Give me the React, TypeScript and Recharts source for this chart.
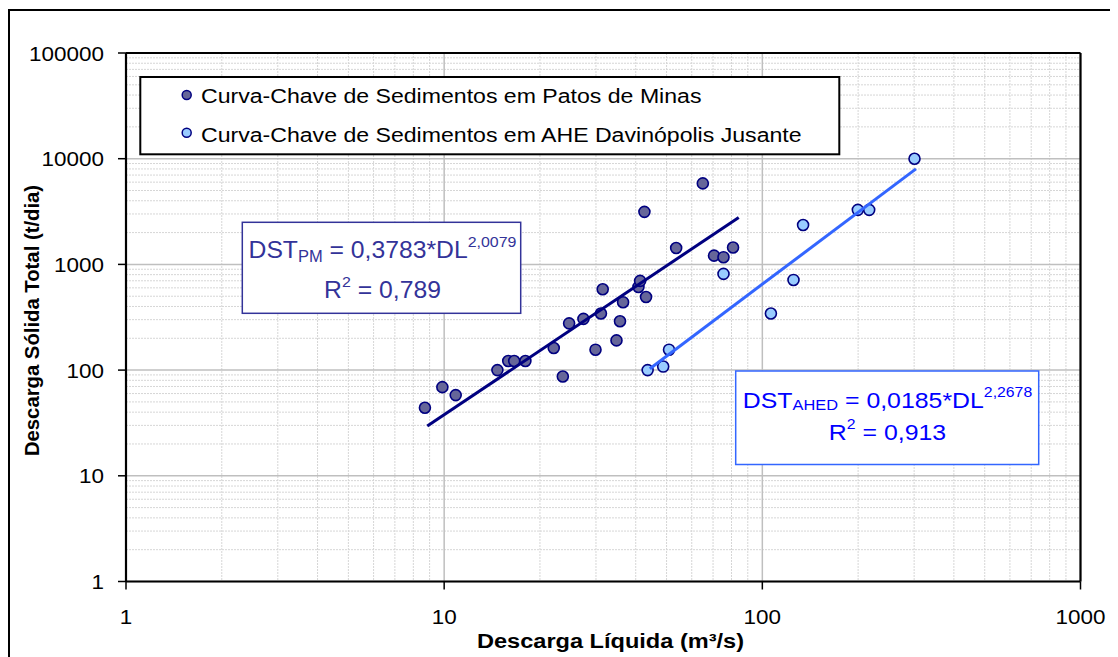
import React from "react";
import { ScatterChart, Scatter, XAxis, YAxis, CartesianGrid, ReferenceLine } from "recharts";

// ---- Data ----
// Curva-Chave de Sedimentos em Patos de Minas
const pmDischarge = [8.7, 9.87, 10.87, 14.7, 15.9, 16.6, 18.0, 22.1, 23.6, 24.7, 27.4, 29.9, 31.1, 31.5, 34.8, 35.7, 36.5, 40.8, 41.3, 43.1, 42.6, 53.6, 65.0, 70.5, 75.5, 80.9];
const pmSediment = [44, 69, 58, 100, 122, 122, 122, 162, 87, 277, 305, 156, 343, 582, 191, 290, 439, 612, 698, 492, 3140, 1430, 5840, 1210, 1170, 1445];
// Curva-Chave de Sedimentos em AHE Davinópolis Jusante
const ahDischarge = [43.6, 48.8, 50.9, 75.5, 106.4, 125.3, 134.3, 199.6, 216.7, 300.8];
const ahSediment = [100, 108, 156, 813, 343, 713, 2360, 3280, 3280, 9980];
// Trend line end points
const pmTrendDischarge = [8.85, 84.3];
const pmTrendSediment = [29.6, 2780];
const ahTrendDischarge = [44.3, 304];
const ahTrendSediment = [103, 8020];

const xTicks = [1, 10, 100, 1000];
const yTicks = [1, 10, 100, 1000, 10000, 100000];
const minorSteps = [2, 3, 4, 5, 6, 7, 8, 9];
const minorOf = (majors: number[]) => majors.slice(0, -1).flatMap((d) => minorSteps.map((m) => d * m));
const xMinor = minorOf(xTicks);
const yMinor = minorOf(yTicks);

const legendLabels = [
  "Curva-Chave de Sedimentos em Patos de Minas",
  "Curva-Chave de Sedimentos em AHE Davinópolis Jusante",
];

const zip = (xs: number[], ys: number[]) => xs.map((x, i) => ({ x, y: ys[i] }));
const pmData = zip(pmDischarge, pmSediment);
const ahData = zip(ahDischarge, ahSediment);
const pmTrend = zip(pmTrendDischarge, pmTrendSediment);
const ahTrend = zip(ahTrendDischarge, ahTrendSediment);

const FONT = "'Liberation Sans', Arial, sans-serif";
const DARK_FILL = "#666699";
const LIGHT_FILL = "#99CCFF";
const MARKER_STROKE = "#000080";

const XTick = (props: any) => {
  const { x, y, payload } = props;
  return (
    <text transform={`translate(${x} ${y + 34.5}) scale(1.07 1)`} textAnchor="middle" fontSize={21} fontFamily={FONT} fill="#000">
      {String(payload.value)}
    </text>
  );
};

const YTick = (props: any) => {
  const { x, y, payload } = props;
  return (
    <text transform={`translate(${x} ${y + 7.5}) scale(1.07 1)`} textAnchor="end" fontSize={21} fontFamily={FONT} fill="#000">
      {String(payload.value)}
    </text>
  );
};

const dot = (fill: string, r: number) => (props: any) => (
  <circle cx={props.cx} cy={props.cy} r={r} fill={fill} stroke={MARKER_STROKE} strokeWidth={1.6} />
);
const noShape = () => <g />;

export default function App() {
  return (
    <div style={{ position: "relative", width: 1110, height: 649, overflow: "hidden", background: "#fff" }}>
      <ScatterChart width={1110} height={649} margin={{ top: 45, right: 37.5, bottom: 35.5, left: 18 }}>
        <CartesianGrid horizontalValues={yMinor} verticalValues={xMinor} stroke="#d6d6d6" strokeDasharray="2 1" strokeWidth={1} />
        <CartesianGrid horizontalValues={yTicks} verticalValues={xTicks} stroke="#bfbfbf" strokeWidth={1.5} />
        <XAxis
          type="number"
          dataKey="x"
          scale="log"
          domain={[1, 1000]}
          ticks={xTicks}
          interval={0}
          allowDataOverflow
          height={40}
          tickSize={8}
          tickMargin={0}
          axisLine={{ stroke: "#000", strokeWidth: 2.2 }}
          tickLine={{ stroke: "#000", strokeWidth: 1.5 }}
          tick={<XTick />}
        />
        <YAxis
          type="number"
          dataKey="y"
          scale="log"
          domain={[1, 100000]}
          ticks={yTicks}
          interval={0}
          allowDataOverflow
          width={100}
          tickSize={8}
          tickMargin={14}
          axisLine={{ stroke: "#000", strokeWidth: 2.2 }}
          tickLine={{ stroke: "#000", strokeWidth: 1.5 }}
          tick={<YTick />}
        />
        <ReferenceLine y={100000} stroke="#000" strokeWidth={2.2} />
        <ReferenceLine x={1000} stroke="#000" strokeWidth={2.2} />
        <Scatter data={pmData} shape={dot(DARK_FILL, 5.5)} isAnimationActive={false} />
        <Scatter data={ahData} shape={dot(LIGHT_FILL, 5.5)} isAnimationActive={false} />
        <Scatter data={pmTrend} shape={noShape} line={{ stroke: "#000080", strokeWidth: 3 }} isAnimationActive={false} />
        <Scatter data={ahTrend} shape={noShape} line={{ stroke: "#3366FF", strokeWidth: 3 }} isAnimationActive={false} />
      </ScatterChart>

      <svg width={1110} height={649} style={{ position: "absolute", left: 0, top: 0, pointerEvents: "none" }} fontFamily={FONT}>
        {/* outer frame */}
        <path d="M1,660 L1,2 L1115,2" fill="none" stroke="#000" strokeWidth={2} />

        {/* legend */}
        <rect x={132.3} y={69} width={699} height={77.3} fill="#fff" stroke="#000" strokeWidth={2} />
        <circle cx={178.7} cy={87} r={4.5} fill={DARK_FILL} stroke={MARKER_STROKE} strokeWidth={1.5} />
        <circle cx={178.7} cy={124.7} r={4.5} fill={LIGHT_FILL} stroke={MARKER_STROKE} strokeWidth={1.5} />
        <text transform="translate(193 95.3) scale(1.1 1)" fontSize={21} fill="#000">{legendLabels[0]}</text>
        <text transform="translate(193 133.7) scale(1.1 1)" fontSize={21} fill="#000">{legendLabels[1]}</text>

        {/* equation box: Patos de Minas */}
        <rect x={234.3} y={214.3} width={278.4} height={91} fill="#fff" stroke="#333399" strokeWidth={1.5} />
        <text transform="translate(374.5 250.3) scale(1.03 1)" textAnchor="middle" fontSize={24} fill="#333399">
          DST<tspan fontSize={16} dy={3.4}>PM</tspan>
          <tspan dy={-3.4}>{"\u00A0= 0,3783*DL"}</tspan>
          <tspan fontSize={15.5} dy={-11.6}>2,0079</tspan>
        </text>
        <text transform="translate(374.5 290.3) scale(1.03 1)" textAnchor="middle" fontSize={24} fill="#333399">
          R<tspan fontSize={15.5} dy={-11.6}>2</tspan>
          <tspan dy={11.6}>{"\u00A0= 0,789"}</tspan>
        </text>

        {/* equation box: AHE Davinópolis Jusante */}
        <rect x={727.7} y={363} width={303} height={93.5} fill="#fff" stroke="#3366FF" strokeWidth={1.5} />
        <text transform="translate(879.5 399.7) scale(1.13 1)" textAnchor="middle" fontSize={22} fill="#0000FF">
          DST<tspan fontSize={14.5} dy={2.3}>AHED</tspan>
          <tspan dy={-2.3}>{"\u00A0= 0,0185*DL"}</tspan>
          <tspan fontSize={14} dy={-11}>2,2678</tspan>
        </text>
        <text transform="translate(879.5 432) scale(1.13 1)" textAnchor="middle" fontSize={22} fill="#0000FF">
          R<tspan fontSize={14} dy={-11}>2</tspan>
          <tspan dy={11}>{"\u00A0= 0,913"}</tspan>
        </text>

        {/* axis titles */}
        <text transform="translate(602.5 640) scale(1.15 1)" textAnchor="middle" fontSize={20.5} fontWeight="bold" fill="#000">
          Descarga Líquida (m³/s)
        </text>
        <text transform="translate(31 312.5) rotate(-90)" textAnchor="middle" fontSize={20.3} fontWeight="bold" fill="#000">
          Descarga Sólida Total (t/dia)
        </text>
      </svg>
    </div>
  );
}
